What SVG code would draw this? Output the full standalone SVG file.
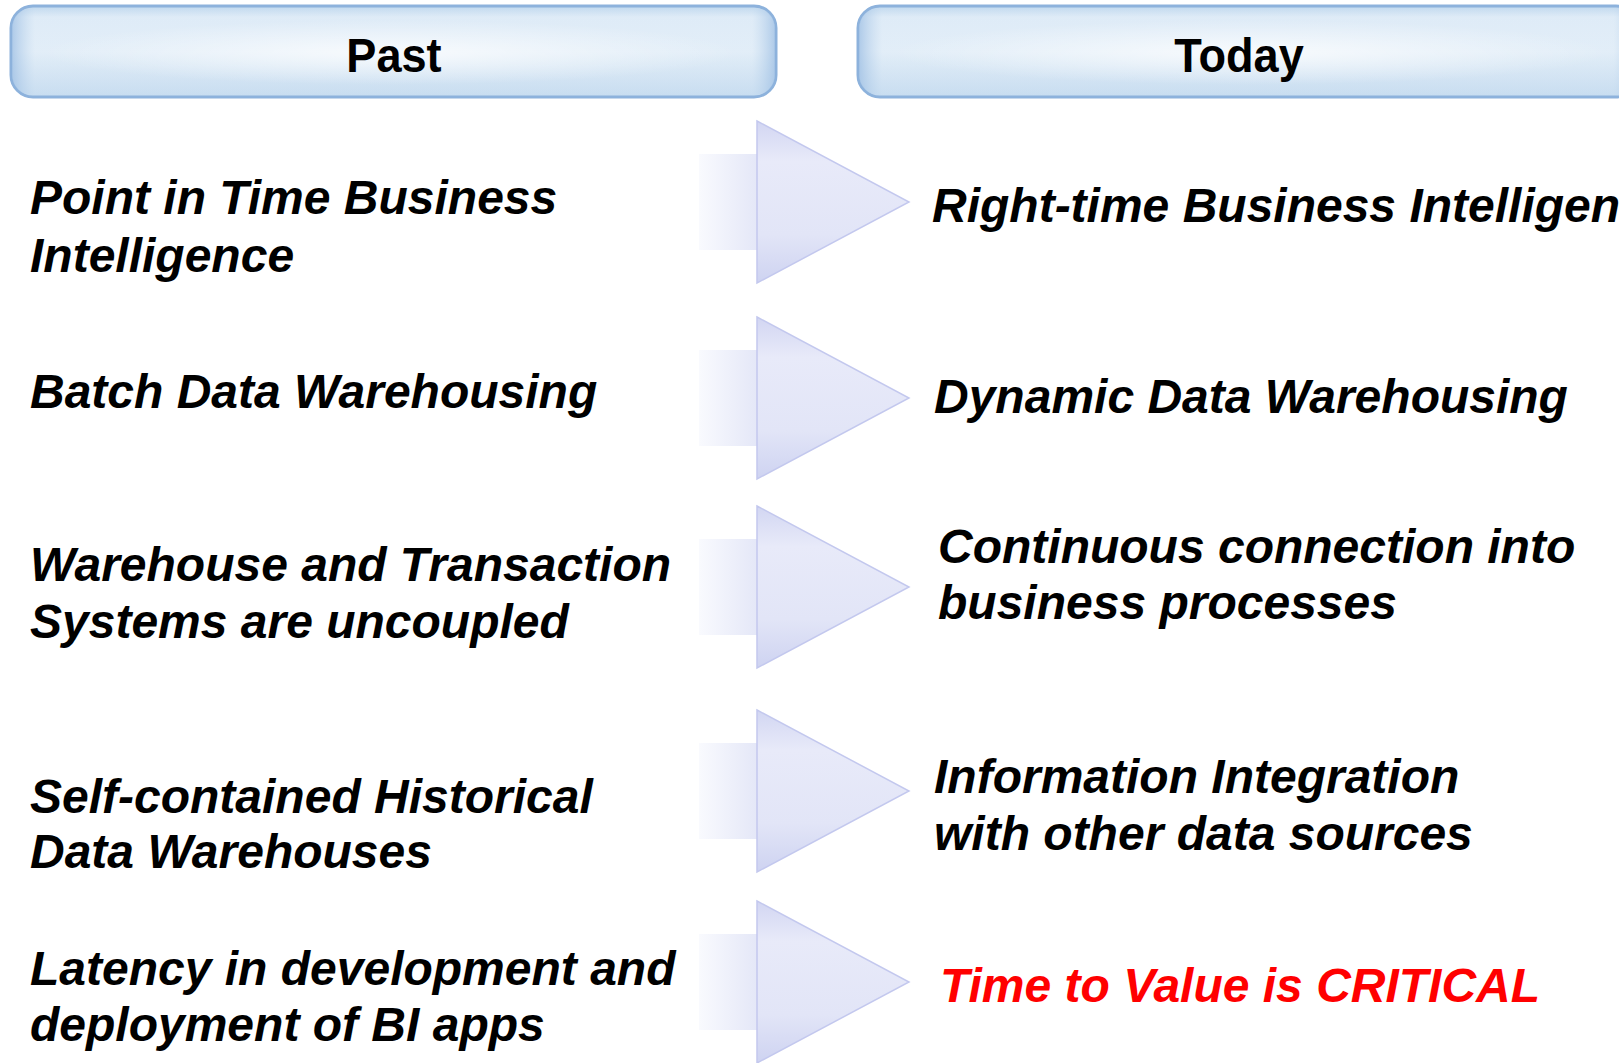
<svg xmlns="http://www.w3.org/2000/svg" width="1619" height="1063" viewBox="0 0 1619 1063">
<style>
.hdr{font-family:"Liberation Sans",Arial,sans-serif;font-weight:bold;font-size:48px;fill:#000;text-anchor:middle}
.t{font-family:"Liberation Sans",Arial,sans-serif;font-weight:bold;font-style:italic;font-size:48px;fill:#000}
.red{fill:#ff0000}
.box{fill:url(#boxg);stroke:#8db2dc;stroke-width:3}
.sides{fill:url(#sideg)}
.shine{fill:url(#shineg)}
.shaft{fill:url(#shaftg)}
.head{fill:url(#headg);stroke:#c3c8ee;stroke-width:1.5}
</style>
<defs>
<linearGradient id="boxg" x1="0" y1="0" x2="0" y2="1">
<stop offset="0" stop-color="#bdd6ed"/>
<stop offset="0.12" stop-color="#e9f2fa"/>
<stop offset="0.5" stop-color="#eef5fb"/>
<stop offset="1" stop-color="#c8ddf0"/>
</linearGradient>
<linearGradient id="sideg" x1="0" y1="0" x2="1" y2="0">
<stop offset="0" stop-color="#9fc0e4" stop-opacity="0.8"/>
<stop offset="0.03" stop-color="#c6dcf0" stop-opacity="0.3"/>
<stop offset="0.97" stop-color="#c6dcf0" stop-opacity="0.3"/>
<stop offset="1" stop-color="#9fc0e4" stop-opacity="0.8"/>
</linearGradient>
<radialGradient id="shineg" cx="0.5" cy="0.5" r="0.5">
<stop offset="0" stop-color="#ffffff" stop-opacity="0.75"/>
<stop offset="1" stop-color="#ffffff" stop-opacity="0"/>
</radialGradient>
<linearGradient id="shaftg" x1="0" y1="0" x2="1" y2="0">
<stop offset="0" stop-color="#f9fafe"/>
<stop offset="1" stop-color="#e3e6f7"/>
</linearGradient>
<linearGradient id="headg" x1="0" y1="0" x2="0" y2="1">
<stop offset="0" stop-color="#d2d6f2"/>
<stop offset="0.25" stop-color="#e8eaf9"/>
<stop offset="0.7" stop-color="#e2e5f7"/>
<stop offset="1" stop-color="#ced3f1"/>
</linearGradient>
<g id="arrow">
<rect class="shaft" x="699" y="33" width="62" height="96"/>
<path class="head" d="M757,0 L909,81 L757,162 Z"/>
</g>
</defs>

<g id="header-past">
<rect class="box" x="11" y="6" width="765" height="91" rx="22"/>
<rect class="sides" x="12" y="8" width="763" height="87" rx="20"/>
<rect class="shine" x="40" y="20" width="700" height="65" rx="20"/>
<text class="hdr" x="394" y="72" transform="translate(394 0) scale(0.94 1) translate(-394 0)">Past</text>
</g>
<g id="header-today">
<rect class="box" x="858" y="6" width="780" height="91" rx="22"/>
<rect class="sides" x="859" y="8" width="778" height="87" rx="20"/>
<rect class="shine" x="890" y="20" width="720" height="65" rx="20"/>
<text class="hdr" x="1239" y="72" transform="translate(1239 0) scale(0.94 1) translate(-1239 0)">Today</text>
</g>

<g id="connectors">
<use href="#arrow" y="121"/>
<use href="#arrow" y="317"/>
<use href="#arrow" y="506"/>
<use href="#arrow" y="710"/>
<use href="#arrow" y="901"/>
</g>

<g id="past-1"><text class="t" x="30" y="214">Point in Time Business</text><text class="t" x="30" y="272">Intelligence</text></g>
<g id="past-2"><text class="t" x="30" y="408">Batch Data Warehousing</text></g>
<g id="past-3"><text class="t" x="30" y="581">Warehouse and Transaction</text><text class="t" x="30" y="638">Systems are uncoupled</text></g>
<g id="past-4"><text class="t" x="30" y="813">Self-contained Historical</text><text class="t" x="30" y="868">Data Warehouses</text></g>
<g id="past-5"><text class="t" x="30" y="985">Latency in development and</text><text class="t" x="30" y="1041">deployment of BI apps</text></g>

<g id="today-1"><text class="t" x="932" y="222">Right-time Business Intelligen</text></g>
<g id="today-2"><text class="t" x="934" y="413">Dynamic Data Warehousing</text></g>
<g id="today-3"><text class="t" x="938" y="563">Continuous connection into</text><text class="t" x="938" y="619">business processes</text></g>
<g id="today-4"><text class="t" x="934" y="793">Information Integration</text><text class="t" x="934" y="850">with other data sources</text></g>
<g id="today-5"><text class="t red" x="940" y="1002">Time to Value is CRITICAL</text></g>
</svg>
